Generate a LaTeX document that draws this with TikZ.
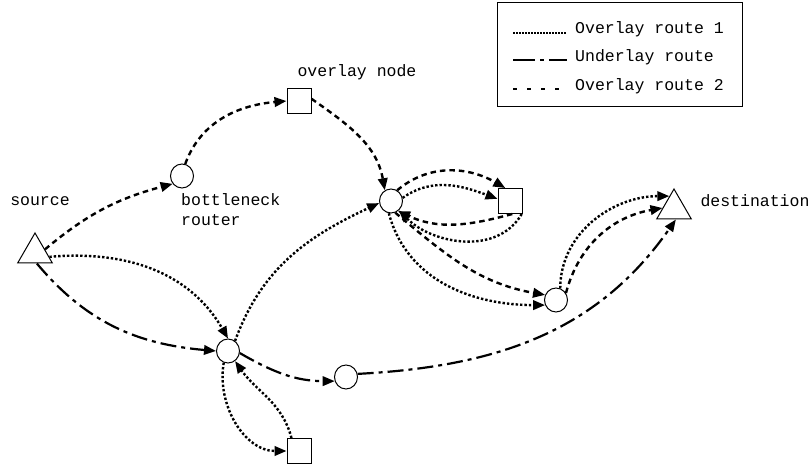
\documentclass[tikz,border=0pt]{standalone}
\usepackage{fontspec}
\setmainfont{Liberation Mono}
\usetikzlibrary{arrows.meta,shapes.geometric}
\begin{document}
\begin{tikzpicture}[x=1pt,y=1pt,
  every node/.style={font=\fontsize{16.5pt}{20pt}\selectfont},
  rtr/.style={ellipse,draw,line width=1pt,minimum width=23pt,minimum height=24pt,inner sep=0pt},
  ovl/.style={rectangle,draw,line width=1pt,minimum width=24pt,minimum height=25pt,inner sep=0pt},
  host/.style={regular polygon,regular polygon sides=3,draw,line width=1pt,minimum size=40pt,inner sep=0pt},
  lbl/.style={inner sep=0pt,align=left},
  tip/.style={-{Triangle[length=12pt,width=9.5pt]}},
  route1/.style={tip,line width=2.4pt,dash pattern=on 2.4pt off 2pt},
  route2/.style={tip,line width=2.4pt,dash pattern=on 5.5pt off 4pt},
  under/.style={tip,line width=2.2pt,dash pattern=on 16pt off 5pt on 4pt off 5pt}]
\useasboundingbox (0,0) rectangle (812,-465);

% nodes
\node[host] (src) at (35,-253) {};
\node[host] (dst) at (674,-209) {};
\node[rtr] (bn) at (182,-176) {};
\node[ovl] (on) at (299,-101) {};
\node[rtr] (m) at (391,-201) {};
\node[ovl] (rs) at (510,-201) {};
\node[rtr] (c) at (556,-300) {};
\node[rtr] (x) at (228,-351) {};
\node[rtr] (p) at (346,-377) {};
\node[ovl] (q) at (299,-451) {};

% labels
\node[lbl] (lsrc) at (40,-201) {source};
\node[lbl,anchor=west] (lbn) at (181,-210) {bottleneck\\router};
\node[lbl] (lon) at (357,-72) {overlay node};
\node[lbl] (ldst) at (755,-201) {destination};

% overlay route 2 (dashed)
\draw[route2] (src.20) to[out=40,in=195] (bn.220);
\draw[route2] (bn.75) to[out=70,in=185] (on.180);
\draw[route2] (on.10) to[out=-35,in=100] (m.120);
\draw[route2] (m.60) to[out=40,in=150] (rs.110);
\draw[route2] (rs.-80) to[out=195,in=-25] (m.-55);
\draw[route2] (m.-70) to[out=-40,in=170] (c.155);
\draw[route2] (c.35) to[out=75,in=190] (dst.175);

% overlay route 1 (dotted)
\draw[route1] (src.-15) to[out=5,in=120] (x.90);
\draw[route1] (x.55) to[out=70,in=205] (m.190);
\draw[route1] (m.15) to[out=35,in=160] (rs.170);
\draw[route1] (rs.-48) to[out=240,in=-45] (m.-50);
\draw[route1] (m.-100) to[out=-75,in=180] (c.205);
\draw[route1] (c.70) to[out=90,in=180] (dst.110);
\draw[route1] (x.-110) to[out=-100,in=180] (q.180);
\draw[route1] (q.120) to[out=105,in=-55] (x.-55);

% underlay route (dash-dot)
\draw[under] (src.-80) to[out=-50,in=175] (x.180);
\draw[under] (x.-10) to[out=-30,in=180] (p.200);
\draw[under] (p.15) to[out=3,in=235] (dst.-80);

% legend
\node[draw,line width=1pt,minimum width=245pt,minimum height=104pt,inner sep=0pt] (leg) at (619.5,-55) {};
\coordinate (a1) at (513,-33); \coordinate (b1) at (567,-33);
\coordinate (a2) at (513,-60); \coordinate (b2) at (567,-60);
\coordinate (a3) at (513,-89); \coordinate (b3) at (567,-89);
\draw[line width=1.5pt,dash pattern=on 1.5pt off 1.5pt] (a1) -- (b1);
\draw[line width=2.2pt,dash pattern=on 22pt off 5pt on 4pt off 5pt on 22pt] (a2) -- (b2);
\draw[line width=2.2pt,dash pattern=on 4pt off 10pt] (a3) -- (b3);
\node[lbl,anchor=west] (t1) at (575,-29) {Overlay route 1};
\node[lbl,anchor=west] (t2) at (575,-57) {Underlay route};
\node[lbl,anchor=west] (t3) at (575,-86) {Overlay route 2};
\end{tikzpicture}
\end{document}
